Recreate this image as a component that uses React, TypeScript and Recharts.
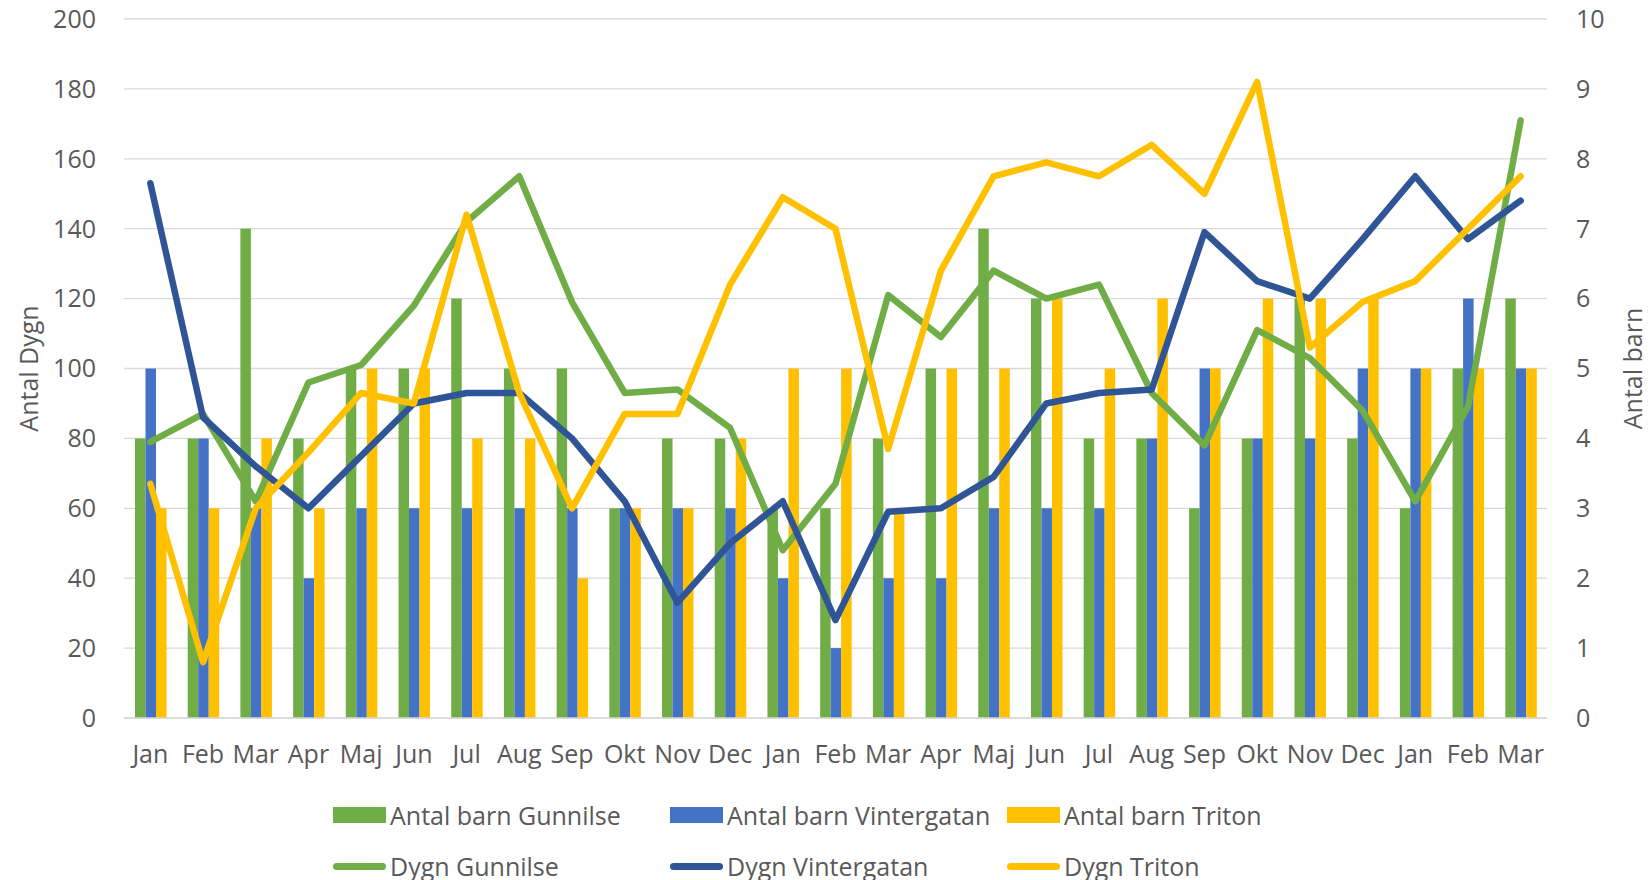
import { ComposedChart, Bar, Line, XAxis, YAxis, CartesianGrid, Legend } from "recharts";

const months = ['Jan', 'Feb', 'Mar', 'Apr', 'Maj', 'Jun', 'Jul', 'Aug', 'Sep', 'Okt', 'Nov', 'Dec',
    'Jan', 'Feb', 'Mar', 'Apr', 'Maj', 'Jun', 'Jul', 'Aug', 'Sep', 'Okt', 'Nov', 'Dec',
    'Jan', 'Feb', 'Mar'];

// antal barn (höger axel)
const barnGunnilse = [4, 4, 7, 4, 5, 5, 6, 5, 5, 3, 4, 4, 3, 3, 4, 5, 7, 6, 4, 4, 3, 4, 6, 4, 3, 5, 6];
const barnVintergatan = [5, 4, 3, 2, 3, 3, 3, 3, 3, 3, 3, 3, 2, 1, 2, 2, 3, 3, 3, 4, 5, 4, 4, 5, 5, 6, 5];
const barnTriton = [3, 3, 4, 3, 5, 5, 4, 4, 2, 3, 3, 4, 5, 5, 3, 5, 5, 6, 5, 6, 5, 6, 6, 6, 5, 5, 5];

// dygn (vänster axel)
const dygnGunnilse = [79, 87, 62, 96, 101, 118, 142, 155, 119, 93, 94, 83, 48, 67, 121, 109, 128, 120, 124, 93, 78, 111, 103, 88, 62, 89, 171];
const dygnVintergatan = [153, 86, 72, 60, 75, 90, 93, 93, 80, 62, 33, 50, 62, 28, 59, 60, 69, 90, 93, 94, 139, 125, 120, 137, 155, 137, 148];
const dygnTriton = [67, 16, 60, 76, 93, 90, 144, 93, 60, 87, 87, 124, 149, 140, 77, 128, 155, 159, 155, 164, 150, 182, 106, 119, 125, 140, 155];

const leftTicks = [0, 20, 40, 60, 80, 100, 120, 140, 160, 180, 200];
const rightTicks = [0, 1, 2, 3, 4, 5, 6, 7, 8, 9, 10];

const GREEN = '#70ad47';
const BLUE = '#4472c4';
const DARKBLUE = '#2f5597';
const YELLOW = '#ffc000';
const TEXT = '#595959';
const GRID = '#d9d9d9';
const FONT = '"Open Sans", "Noto Sans", sans-serif';

const data = months.map((month, i) => ({
    month,
    barnGunnilse: barnGunnilse[i],
    barnVintergatan: barnVintergatan[i],
    barnTriton: barnTriton[i],
    dygnGunnilse: dygnGunnilse[i],
    dygnVintergatan: dygnVintergatan[i],
    dygnTriton: dygnTriton[i],
}));

const boundaryTicks = months.map((_, i) => i).concat(months.length);

const legendItems = [
    { name: 'Antal barn Gunnilse', color: GREEN, kind: 'rect', col: 0, row: 0 },
    { name: 'Antal barn Vintergatan', color: BLUE, kind: 'rect', col: 1, row: 0 },
    { name: 'Antal barn Triton', color: YELLOW, kind: 'rect', col: 2, row: 0 },
    { name: 'Dygn Gunnilse', color: GREEN, kind: 'line', col: 0, row: 1 },
    { name: 'Dygn Vintergatan', color: DARKBLUE, kind: 'line', col: 1, row: 1 },
    { name: 'Dygn Triton', color: YELLOW, kind: 'line', col: 2, row: 1 },
];
const colX = [333, 670, 1007];
const rowY = [25, 76];

const renderLegend = () => (
    <div style={{ position: 'relative', width: 1648, height: 90 }}>
        {legendItems.map((item) => (
            <div key={item.name}>
                <div style={{
                    position: 'absolute',
                    left: colX[item.col],
                    top: rowY[item.row] - (item.kind === 'rect' ? 8 : 3.5),
                    width: 53,
                    height: item.kind === 'rect' ? 16 : 7,
                    borderRadius: item.kind === 'rect' ? 0 : 3.5,
                    background: item.color,
                }} />
                <span style={{
                    position: 'absolute',
                    left: colX[item.col] + 57,
                    top: rowY[item.row] - 18,
                    lineHeight: '36px',
                    fontSize: 25,
                    color: TEXT,
                    fontFamily: FONT,
                    whiteSpace: 'nowrap',
                }}>{item.name}</span>
            </div>
        ))}
    </div>
);

const leftTitle = ({ viewBox }: any) => {
    const x = viewBox.x + 28;
    const y = viewBox.y + viewBox.height / 2;
    return (
        <text x={x} y={y} transform={`rotate(-90, ${x}, ${y})`} textAnchor="middle" dominantBaseline="central"
            fill={TEXT} fontSize={25} fontFamily={FONT}>Antal Dygn</text>
    );
};

const rightTitle = ({ viewBox }: any) => {
    const x = viewBox.x + 85;
    const y = viewBox.y + viewBox.height / 2;
    return (
        <text x={x} y={y} transform={`rotate(-90, ${x}, ${y})`} textAnchor="middle" dominantBaseline="central"
            fill={TEXT} fontSize={25} fontFamily={FONT}>Antal barn</text>
    );
};

const tickStyle = { fill: TEXT, fontSize: 25, fontFamily: FONT };

export default function App() {
    return (
        <div style={{ position: 'absolute', left: 0, top: 0, width: 1648, height: 880, background: '#fff' }}>
            <ComposedChart width={1648} height={880} data={data} barGap={0}
                margin={{ top: 19, right: 0, left: 0, bottom: 111 }}>
                <CartesianGrid vertical={false} stroke={GRID} strokeWidth={1.3} xAxisId="cat" yAxisId="left" />
                <XAxis xAxisId="bounds" type="number" domain={[0, months.length]} ticks={boundaryTicks}
                    allowDataOverflow height={1} tick={false} tickSize={8}
                    axisLine={{ stroke: GRID, strokeWidth: 1.5 }} tickLine={{ stroke: GRID, strokeWidth: 1.5 }} />
                <XAxis xAxisId="cat" dataKey="month" interval={0} height={50} axisLine={false} tickLine={false}
                    tickSize={0} tickMargin={26} tick={tickStyle} />
                <YAxis yAxisId="left" domain={[0, 200]} ticks={leftTicks} width={124} axisLine={false}
                    tickLine={false} tickSize={0} tickMargin={28} tick={tickStyle} label={leftTitle} />
                <YAxis yAxisId="right" orientation="right" domain={[0, 10]} ticks={rightTicks} width={101}
                    axisLine={false} tickLine={false} tickSize={0} tickMargin={29} tick={{ ...tickStyle, textAnchor: 'start' }}
                    label={rightTitle} />
                <Bar xAxisId="cat" yAxisId="right" dataKey="barnGunnilse" name="Antal barn Gunnilse" fill={GREEN} barSize={10.5} isAnimationActive={false} />
                <Bar xAxisId="cat" yAxisId="right" dataKey="barnVintergatan" name="Antal barn Vintergatan" fill={BLUE} barSize={10.5} isAnimationActive={false} />
                <Bar xAxisId="cat" yAxisId="right" dataKey="barnTriton" name="Antal barn Triton" fill={YELLOW} barSize={10.5} isAnimationActive={false} />
                <Line xAxisId="cat" yAxisId="left" dataKey="dygnGunnilse" name="Dygn Gunnilse" stroke={GREEN} strokeWidth={6.5}
                    dot={false} strokeLinecap="round" strokeLinejoin="round" isAnimationActive={false} />
                <Line xAxisId="cat" yAxisId="left" dataKey="dygnVintergatan" name="Dygn Vintergatan" stroke={DARKBLUE} strokeWidth={6.5}
                    dot={false} strokeLinecap="round" strokeLinejoin="round" isAnimationActive={false} />
                <Line xAxisId="cat" yAxisId="left" dataKey="dygnTriton" name="Dygn Triton" stroke={YELLOW} strokeWidth={6.5}
                    dot={false} strokeLinecap="round" strokeLinejoin="round" isAnimationActive={false} />
                <Legend layout="horizontal" verticalAlign="middle" align="center" content={renderLegend}
                    wrapperStyle={{ position: 'absolute', left: 0, top: 790, width: 1648, height: 90 }} />
            </ComposedChart>
        </div>
    );
}
